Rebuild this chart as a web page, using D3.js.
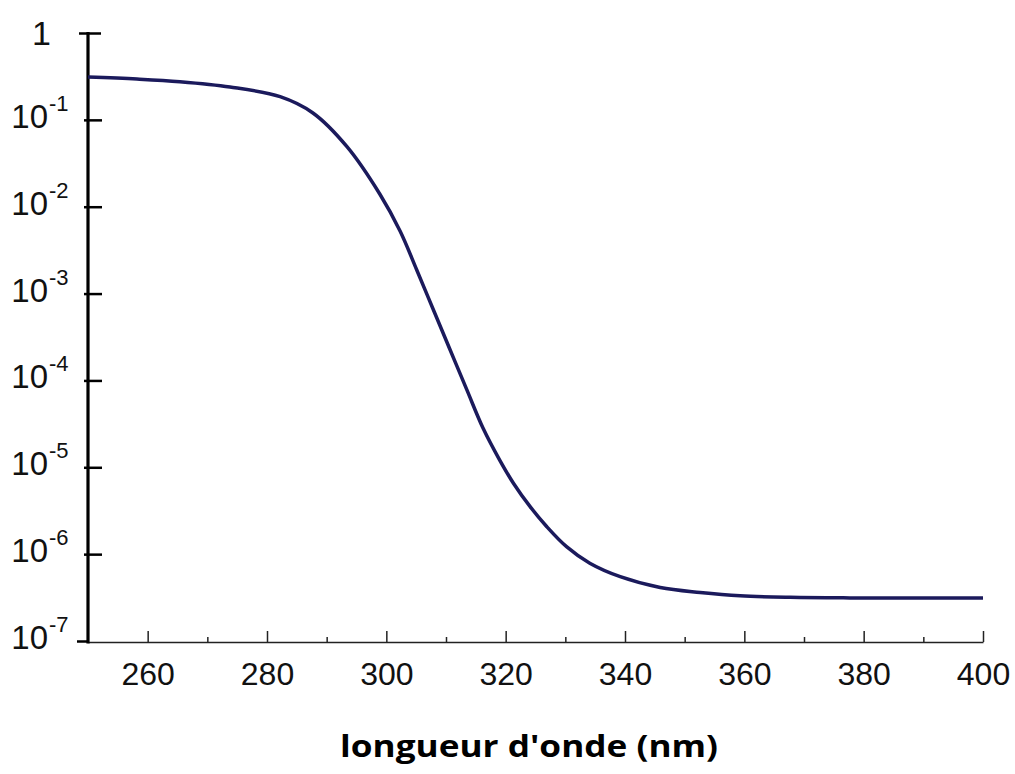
<!DOCTYPE html>
<html><head><meta charset="utf-8">
<script src="https://cdn.jsdelivr.net/npm/d3@7"></script>
<style>body{margin:0;background:#fff}svg{display:block}</style>
</head><body><svg id="c" width="1015" height="774"></svg>
<script>
// wavelength (nm)
const wavelengths = [250, 258.2, 265.4, 273.8, 282.2, 287.7, 293.4, 298.9, 302.3, 305.1, 307.9, 310.7, 313.5, 316.2, 319.0, 321.3, 324.1, 326.9, 330.2, 334.1, 339.2, 345.9, 352.6, 359.3, 367.7, 377.7, 400];
// transmitted fraction (log scale)
const values = [0.311, 0.295, 0.275, 0.239, 0.1849, 0.12, 0.0491, 0.014, 0.00525, 0.00187, 6.47e-4, 2.24e-4, 7.77e-5, 2.83e-5, 1.21e-5, 6.55e-6, 3.52e-6, 2.07e-6, 1.22e-6, 7.86e-7, 5.5e-7, 4.13e-7, 3.62e-7, 3.31e-7, 3.18e-7, 3.135e-7, 3.127e-7];
const xMajorTicks = [260, 280, 300, 320, 340, 360, 380, 400];
const xMinorTicks = [270, 290, 310, 330, 350, 370, 390];
const yTickExponents = [0, -1, -2, -3, -4, -5, -6, -7];
const xLabel = "longueur d'onde (nm)";

const svg = d3.select("#c");
svg.append("rect").attr("width", 1015).attr("height", 774).attr("fill", "#fff");

const x = d3.scaleLinear().domain([250, 400]).range([88, 983]);
const y = d3.scaleLog().domain([1e-7, 1]).range([641, 33]);
const axisY = 642;
const font = "'Liberation Sans', Arial, sans-serif";

// x axis (major ticks + labels)
const gx = svg.append("g").attr("transform", `translate(0,${axisY})`)
  .call(d3.axisBottom(x).tickValues(xMajorTicks).tickSizeInner(-11).tickSizeOuter(0).tickPadding(20).tickFormat(d3.format("d")));
gx.select(".domain").attr("stroke", "#222").attr("stroke-width", 1.5);
gx.selectAll(".tick line").attr("stroke", "#222").attr("stroke-width", 1.5);
gx.selectAll(".tick text").attr("fill", "#111").attr("font-family", font).attr("font-size", 32);

// x axis minor ticks
const gxm = svg.append("g").attr("transform", `translate(0,${axisY})`)
  .call(d3.axisBottom(x).tickValues(xMinorTicks).tickSizeInner(-5).tickSizeOuter(0).tickFormat(""));
gxm.select(".domain").remove();
gxm.selectAll(".tick line").attr("stroke", "#222").attr("stroke-width", 1.5);

// y axis ticks
const gy = svg.append("g").attr("transform", "translate(84,0)")
  .call(d3.axisRight(y).tickValues(yTickExponents.map(e => Math.pow(10, e))).tickSizeInner(18).tickSizeOuter(0).tickFormat(""));
gy.select(".domain").remove();
gy.selectAll(".tick line").attr("stroke", "#000").attr("stroke-width", 2.5);
gy.selectAll(".tick").filter(d => d === 1).select("line").attr("x1", -5).attr("x2", 17);
gy.selectAll(".tick").filter(d => d < 2e-7).select("line").attr("x1", -7).attr("x2", 4);

// y axis thick line
svg.append("line").attr("x1", 88).attr("x2", 88)
  .attr("y1", y(1) - 1).attr("y2", axisY + 1.5)
  .attr("stroke", "#000").attr("stroke-width", 3.2);

// y labels
const ylab = svg.append("g");
yTickExponents.forEach(e => {
  const yy = y(Math.pow(10, e));
  if (e === 0) {
    ylab.append("text").attr("x", 51).attr("y", yy + 12).attr("text-anchor", "end")
      .attr("font-family", font).attr("font-size", 34).attr("fill", "#111").text("1");
  } else {
    ylab.append("text").attr("x", 48).attr("y", yy + 8).attr("text-anchor", "end")
      .attr("font-family", font).attr("font-size", 33).attr("fill", "#111").text("10");
    ylab.append("text").attr("x", 49).attr("y", yy + 8 - 17).attr("text-anchor", "start")
      .attr("font-family", font).attr("font-size", 22).attr("fill", "#111").text(String(e));
  }
});

// curve
const data = wavelengths.map((w, i) => ({ w, v: values[i] }));
const line = d3.line().x(d => x(d.w)).y(d => y(d.v)).curve(d3.curveCatmullRom.alpha(0.5));
svg.append("path").datum(data).attr("d", line)
  .attr("fill", "none").attr("stroke", "#1b1a5c").attr("stroke-width", 3.5)
  .attr("stroke-linejoin", "round");

// x axis title
svg.append("text").attr("x", 529).attr("y", 757).attr("text-anchor", "middle")
  .attr("font-family", "'Open Sans', 'Noto Sans', sans-serif").attr("font-weight", "bold")
  .attr("font-size", 31).attr("fill", "#000")
  .attr("textLength", 378).attr("lengthAdjust", "spacingAndGlyphs")
  .text(xLabel);
</script>
</body></html>
